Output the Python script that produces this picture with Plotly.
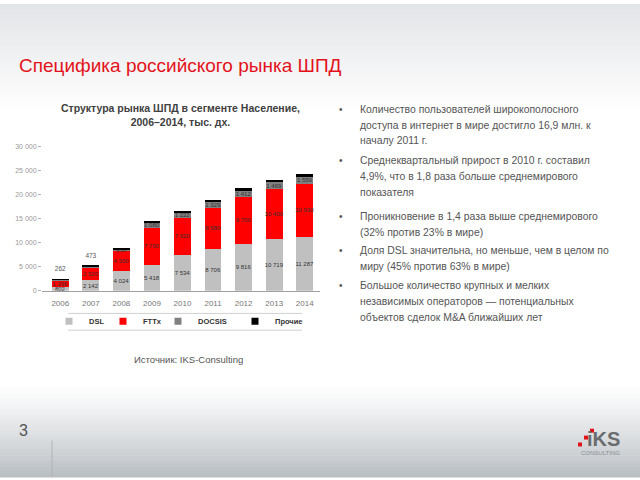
import plotly.graph_objects as go

W, H = 640, 480

years = ["2006", "2007", "2008", "2009", "2010", "2011", "2012", "2013", "2014"]
dsl = [802, 2142, 4024, 5418, 7534, 8706, 9816, 10719, 11287]
fttx = [1296, 2520, 4300, 7700, 7620, 8580, 9700, 10400, 10930]
docsis = [262, 473, 350, 1080, 1222, 1329, 1412, 1469, 1559]
other = [50, 100, 150, 250, 300, 350, 400, 450, 500]
series_names = ["DSL", "FTTx", "DOCSIS", "Прочие"]
series_colors = ["#c0c0c0", "#ff0000", "#808080", "#000000"]
y_ticks = [0, 5000, 10000, 15000, 20000, 25000, 30000]
y_ticktext = ["0", "5 000", "10 000", "15 000", "20 000", "25 000", "30 000"]

title_text = "Специфика российского рынка ШПД"
chart_title = "Структура рынка ШПД в сегменте Население,<br>2006–2014, тыс. дх."
source_text = "Источник: IKS-Consulting"
bullets = [
    ["Количество пользователей широкополосного",
     "доступа в интернет в мире достигло 16,9 млн. к",
     "началу 2011 г."],
    ["Среднеквартальный прирост в 2010 г. составил",
     "4,9%, что в 1,8 раза больше среднемирового",
     "показателя"],
    ["Проникновение в 1,4 раза выше среднемирового",
     "(32% против 23% в мире)"],
    ["Доля DSL значительна, но меньше, чем в целом по",
     "миру (45% против 63% в мире)"],
    ["Большое количество крупных и мелких",
     "независимых операторов — потенциальных",
     "объектов сделок M&A ближайших лет"],
]
bullet_y = [107, 159, 216, 250, 286]


def fmt(v):
    return f"{v:,}".replace(",", " ")


def px(x):
    return x / W


def py(y):
    return 1 - y / H


fig = go.Figure()

labels_dsl = [fmt(v) for v in dsl]
labels_fttx = [fmt(v) for v in fttx]
labels_docsis = [fmt(v) if v >= 1000 or v == 350 else "" for v in docsis]
label_sets = [labels_dsl, labels_fttx, labels_docsis, ["" for _ in other]]
values = [dsl, fttx, docsis, other]

for name, vals, col, lab in zip(series_names, values, series_colors, label_sets):
    fig.add_trace(go.Bar(
        x=years, y=vals, name=name, marker=dict(color=col, line=dict(width=0)),
        text=lab, textposition="inside", insidetextanchor="middle", textangle=0,
        textfont=dict(size=6, color="#333333", family="Liberation Sans"),
        showlegend=False, hoverinfo="skip",
    ))

# small-value labels above the first two bars
totals = [a + b + c + d for a, b, c, d in zip(dsl, fttx, docsis, other)]
fig.add_trace(go.Scatter(
    x=years[:2], y=[t + 1300 for t in totals[:2]], mode="text",
    text=[fmt(v) for v in docsis[:2]], textposition="top center",
    textfont=dict(size=6.5, color="#555555", family="Liberation Sans"),
    showlegend=False, hoverinfo="skip",
))

# legend entries (one legend per entry so each can be placed like the original)
legend_ids = ["legend", "legend2", "legend3", "legend4"]
legend_x = [49, 103, 158, 235]
for name, col, lid in zip(series_names, series_colors, legend_ids):
    fig.add_trace(go.Scatter(
        x=[years[0]], y=[None], mode="markers", name=name, legend=lid,
        marker=dict(symbol="square", size=7, color=col),
    ))

legend_layout = {}
for lid, lx in zip(legend_ids, legend_x):
    legend_layout[lid] = dict(
        orientation="h", x=px(lx), y=py(322), xanchor="left", yanchor="middle",
        bgcolor="rgba(0,0,0,0)", itemwidth=30,
        font=dict(size=7.5, color="#333333", family="Liberation Sans", weight="bold"),
    )

annotations = []
# slide title
annotations.append(dict(
    x=px(17), y=py(62), xref="paper", yref="paper", xanchor="left", yanchor="middle",
    text=title_text, showarrow=False,
    font=dict(size=19, color="#e3121a", family="Liberation Sans"),
))
# chart title
annotations.append(dict(
    x=px(180), y=py(113), xref="paper", yref="paper", xanchor="center", yanchor="middle",
    text="<b>" + chart_title + "</b>", showarrow=False,
    font=dict(size=10.5, color="#404040", family="Liberation Sans"),
))
# source
annotations.append(dict(
    x=px(188), y=py(361), xref="paper", yref="paper", xanchor="center", yanchor="middle",
    text=source_text, showarrow=False,
    font=dict(size=9.5, color="#555555", family="Liberation Sans"),
))
# bullets
for lines, y0 in zip(bullets, bullet_y):
    annotations.append(dict(
        x=px(341), y=py(y0), xref="paper", yref="paper", xanchor="center", yanchor="middle",
        text="•", showarrow=False, font=dict(size=10, color="#555555", family="Liberation Sans"),
    ))
    for k, line in enumerate(lines):
        annotations.append(dict(
            x=px(358), y=py(y0 + 16 * k), xref="paper", yref="paper",
            xanchor="left", yanchor="middle", text=line, showarrow=False,
            font=dict(size=10.4, color="#555555", family="Liberation Sans"),
        ))
# page number and logo
annotations.append(dict(
    x=px(17), y=py(433), xref="paper", yref="paper", xanchor="left", yanchor="middle",
    text="3", showarrow=False, font=dict(size=16, color="#555555", family="Liberation Sans"),
))
annotations.append(dict(
    x=px(622), y=py(441), xref="paper", yref="paper", xanchor="right", yanchor="middle",
    text="<b>iKS</b>", showarrow=False,
    font=dict(size=20, color="#6a6d70", family="Liberation Sans"),
))
annotations.append(dict(
    x=px(622), y=py(456), xref="paper", yref="paper", xanchor="right", yanchor="middle",
    text="CONSULTING", showarrow=False,
    font=dict(size=6, color="#8a8d90", family="Liberation Sans"),
))

shapes = []
# background gradients
n = 30
top_end = 110
for i in range(n):
    y0 = top_end * i / n
    y1 = top_end * (i + 1) / n + 0.5
    t = i / (n - 1)
    c0 = (226, 229, 232)
    c = tuple(int(c0[j] + (255 - c0[j]) * t) for j in range(3))
    shapes.append(dict(type="rect", xref="paper", yref="paper", x0=0, x1=1,
                       y0=py(y1), y1=py(y0), fillcolor="rgb(%d,%d,%d)" % c,
                       line=dict(width=0), layer="below"))
bot_start = 385
for i in range(n):
    y0 = bot_start + (H - bot_start) * i / n
    y1 = bot_start + (H - bot_start) * (i + 1) / n + 0.5
    t = (i / (n - 1)) ** 1.2
    c1 = (186, 191, 196)
    c = tuple(int(255 + (c1[j] - 255) * t) for j in range(3))
    shapes.append(dict(type="rect", xref="paper", yref="paper", x0=0, x1=1,
                       y0=py(y1), y1=py(y0), fillcolor="rgb(%d,%d,%d)" % c,
                       line=dict(width=0), layer="below"))
# legend rules
for yy in (314, 331):
    shapes.append(dict(type="line", xref="paper", yref="paper", x0=px(68), x1=px(302),
                       y0=py(yy), y1=py(yy), line=dict(color="#d0d0d0", width=1)))
# footer divider
shapes.append(dict(type="line", xref="paper", yref="paper", x0=px(52), x1=px(52),
                   y0=py(443), y1=py(480), line=dict(color="#b0b4b8", width=1)))
# logo squares
for (sx, sy, s) in [(590, 431, 4), (584, 438, 4), (578, 445, 4)]:
    shapes.append(dict(type="rect", xref="paper", yref="paper", x0=px(sx), x1=px(sx + s),
                       y0=py(sy + s), y1=py(sy), fillcolor="#e3121a", line=dict(width=0)))

fig.update_layout(
    width=W, height=H, margin=dict(l=0, r=0, t=0, b=0),
    paper_bgcolor="#ffffff", plot_bgcolor="rgba(0,0,0,0)",
    barmode="stack", bargap=0.45,
    font=dict(family="Liberation Sans", color="#555555"),
    uniformtext=dict(minsize=6, mode="show"),
    xaxis=dict(type="category", categoryorder="array", categoryarray=years,
               domain=[px(42), px(320)], showgrid=False, showline=True,
               linecolor="#a0a0a0", linewidth=1, ticks="", ticklabelstandoff=5,
               tickfont=dict(size=8, color="#777777", family="Liberation Sans")),
    yaxis=dict(domain=[py(291), py(145)], range=[0, 30000], showgrid=False,
               zeroline=False, showline=False, tickvals=y_ticks, ticktext=y_ticktext,
               ticks="outside", ticklen=3, tickcolor="#b0b0b0",
               tickfont=dict(size=7, color="#999999")),
    annotations=annotations, shapes=shapes,
    **legend_layout,
)

fig.write_html("out.html", post_script="document.body.style.margin='0px';")
